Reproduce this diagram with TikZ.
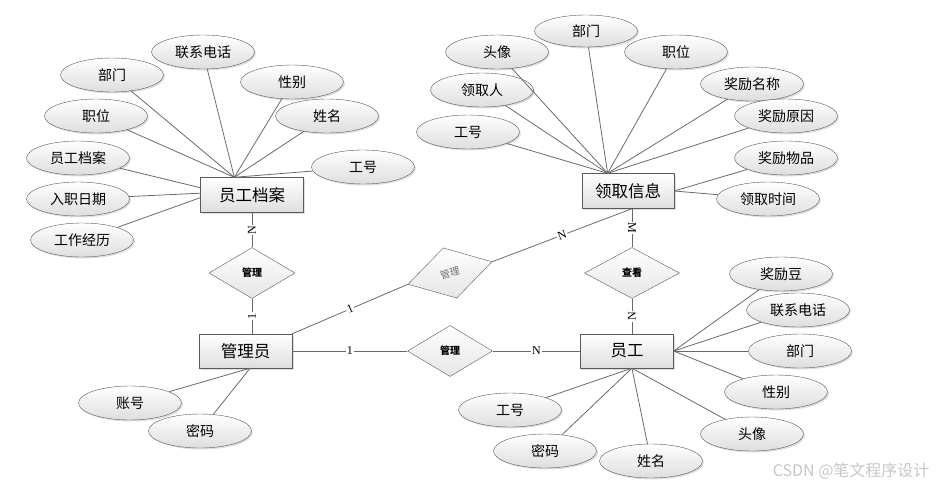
\documentclass[tikz,border=0pt]{standalone}
\usepackage{fontspec}
\setmainfont{Liberation Serif}
\newfontfamily\cjk{Noto Sans CJK SC}
\usepackage{tikz}
\usetikzlibrary{shapes,shadows,positioning}
\definecolor{edgegray}{HTML}{5A5A5A}
\definecolor{linegray}{HTML}{6A6A6A}

\begin{document}
\begin{tikzpicture}[x=1pt,y=-1pt,
  every node/.style={font=\cjk},
  attr/.style={ellipse,draw=edgegray,top color=white,bottom color=black!13,
    minimum width=103pt,minimum height=34pt,inner sep=0pt,
    font=\cjk\fontsize{14}{14}\selectfont,
    drop shadow={opacity=0.25,shadow xshift=1.5pt,shadow yshift=-1.5pt}},
  ent/.style={rectangle,draw=edgegray,top color=white,bottom color=black!13,
    minimum width=93pt,minimum height=34pt,inner sep=0pt,
    font=\cjk\fontsize{16.5}{16.5}\selectfont,
    drop shadow={opacity=0.25,shadow xshift=1.5pt,shadow yshift=-1.5pt}},
  rel/.style={diamond,draw=edgegray,top color=white,bottom color=black!10,
    minimum width=86pt,minimum height=51pt,inner sep=0pt,
    font=\cjk\bfseries\fontsize{10}{10}\selectfont},
  card/.style={font=\fontsize{12}{12}\selectfont,fill=white,inner sep=1pt,sloped},
  vcard/.style={font=\fontsize{12}{12}\selectfont,fill=white,inner sep=1pt,rotate=90},
  link/.style={draw=linegray,line width=0.8pt}]

\useasboundingbox (0,0) rectangle (936,487);

% entities
\node (dang) [ent, minimum width=103pt, minimum height=35pt] at (252,195) {员工档案};
\node (lq) [ent, minimum width=92pt, minimum height=35pt] at (628,191) {领取信息};
\node (gly) [ent] at (245.5,351) {管理员};
\node (yg) [ent] at (627,351) {员工};

% relations
\node (r1) [rel] at (252,273) {管理};
\node (r2) [rel, rotate=15, minimum width=87pt, minimum height=52pt,
  font=\cjk\fontsize{10}{10}\selectfont, text=black!55] at (450,273) {管理};
\node (r3) [rel, minimum width=95pt] at (632,273) {查看};
\node (r4) [rel, minimum width=85pt] at (450,351) {管理};

% attributes of 员工档案
\node (da1) [attr] at (203,52) {联系电话};
\node (da2) [attr] at (112,75) {部门};
\node (da3) [attr] at (292,82) {性别};
\node (da4) [attr] at (96,116) {职位};
\node (da5) [attr] at (327,116) {姓名};
\node (da6) [attr] at (363,167) {工号};
\node (da7) [attr] at (78,158) {员工档案};
\node (da8) [attr] at (78,199) {入职日期};
\node (da9) [attr] at (82,240) {工作经历};

% attributes of 领取信息
\node (la1) [attr, minimum height=32pt] at (586,31) {部门};
\node (la2) [attr] at (497,52) {头像};
\node (la3) [attr] at (676,52) {职位};
\node (la4) [attr] at (482,90) {领取人};
\node (la5) [attr] at (752,84) {奖励名称};
\node (la6) [attr] at (468,132) {工号};
\node (la7) [attr] at (786,116) {奖励原因};
\node (la8) [attr] at (786,158) {奖励物品};
\node (la9) [attr] at (768,199) {领取时间};

% attributes of 管理员
\node (ga1) [attr] at (130,403) {账号};
\node (ga2) [attr] at (200,431) {密码};

% attributes of 员工
\node (ya1) [attr] at (781,274) {奖励豆};
\node (ya2) [attr] at (798,310) {联系电话};
\node (ya3) [attr] at (800,351) {部门};
\node (ya4) [attr] at (776,392) {性别};
\node (ya5) [attr] at (752,434) {头像};
\node (ya6) [attr] at (510,410) {工号};
\node (ya7) [attr] at (545,451) {密码};
\node (ya8) [attr] at (651,461) {姓名};

% attribute links
\foreach \i in {1,...,6} \draw [link] (da\i) -- (dang.135);
\draw [link] (da7) -- (dang.172);
\draw [link] (da8) -- (dang.178);
\draw [link] (da9) -- (dang.183);
\foreach \i in {1,...,7} \draw [link] (la\i) -- (lq.139);
\foreach \i in {8,9} \draw [link] (la\i) -- (lq.east);
\foreach \i in {1,2} \draw [link] (ga\i) -- (gly.-75);
\foreach \i in {1,...,4} \draw [link] (ya\i) -- (yg.east);
\foreach \i in {5,...,8} \draw [link] (ya\i) -- (yg.-74);

% relation links
\draw [link] (dang.south) -- (r1.north) node [vcard, midway] {N};
\draw [link] (r1.south) -- (r1.south |- gly.north) node [vcard, midway] {1};
\draw [link] (gly.north east) -- (r2.west) node [card, midway] {1};
\draw [link] (r2.east) -- (r3.north |- lq.south) node [card, midway] {N};
\draw [link] (r3.north |- lq.south) -- (r3.north) node [vcard, rotate=180, midway] {M};
\draw [link] (r3.south) -- (r3.south |- yg.north) node [vcard, midway] {N};
\draw [link] (gly.east) -- (r4.west) node [card, midway] {1};
\draw [link] (r4.east) -- (yg.west) node [card, midway] {N};

\node (wm) [anchor=east, text=black!22, font=\cjk\fontsize{16}{16}\selectfont]
  at (933,471) {CSDN @笔文程序设计};

\end{tikzpicture}
\end{document}
